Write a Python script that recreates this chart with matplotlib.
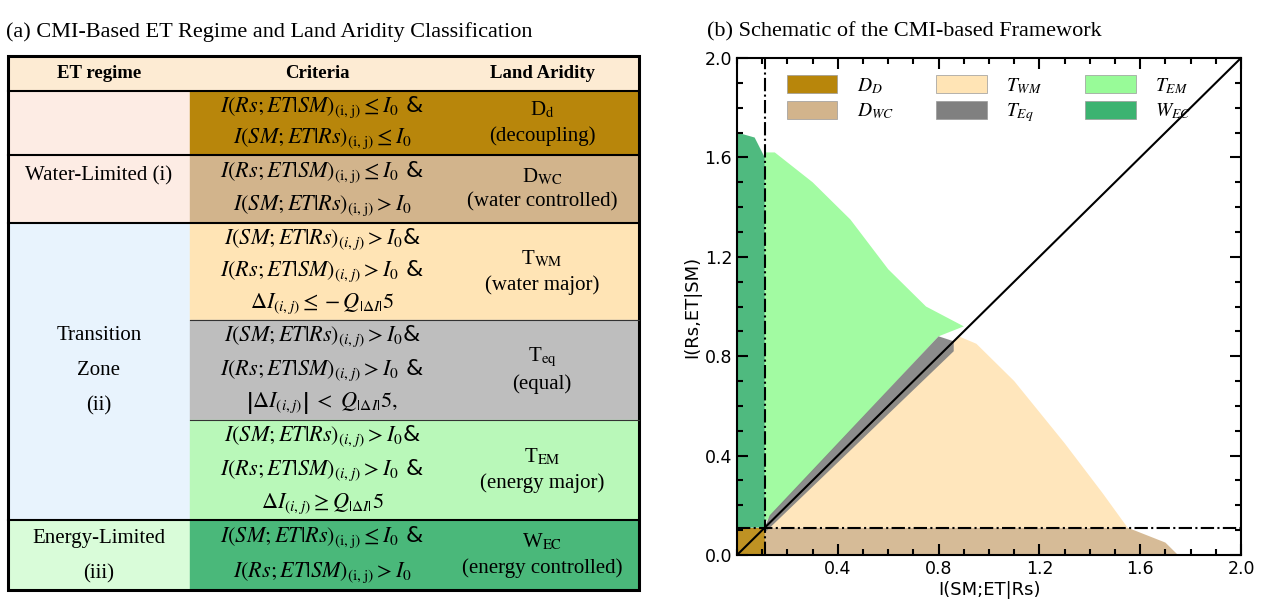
import matplotlib.pyplot as plt
from matplotlib.patches import Rectangle, Polygon

plt.rcParams['mathtext.fontset'] = 'stix'
SERIF = 'Liberation Serif'

# ---- table data (a) ----
header = ["ET regime", "Criteria", "Land Aridity"]
regimes = ["Water-Limited (i)", "Transition\n\nZone\n\n(ii)", "Energy-Limited\n\n(iii)"]
regime_colors = ["#fdece4", "#e8f3fd", "#d9fcd9"]
regime_text_y = [176, 371, 556]
classes = ["D$_\\mathrm{d}$\n(decoupling)", "D$_\\mathrm{WC}$\n(water controlled)",
           "T$_\\mathrm{WM}$\n(water major)", "T$_\\mathrm{eq}$\n(equal)",
           "T$_\\mathrm{EM}$\n(energy major)", "W$_\\mathrm{EC}$\n(energy controlled)"]
class_colors = ["#b8860b", "#d2b48c", "#ffe4b5", "#bebebe", "#b9f8b9", "#4ab87a"]
criteria = [
    ["$I(Rs;ET|SM)_{\\mathrm{(i,j)}}\\leq I_0$ &", "$I(SM;ET|Rs)_{\\mathrm{(i,j)}}\\leq I_0$"],
    ["$I(Rs;ET|SM)_{\\mathrm{(i,j)}}\\leq I_0$ &", "$I(SM;ET|Rs)_{\\mathrm{(i,j)}}>I_0$"],
    ["$I(SM;ET|Rs)_{(i,j)}>I_0$&", "$I(Rs;ET|SM)_{(i,j)}>I_0$ &", "$\\Delta I_{(i,j)}\\leq -Q_{|\\Delta I|}5$"],
    ["$I(SM;ET|Rs)_{(i,j)}>I_0$&", "$I(Rs;ET|SM)_{(i,j)}>I_0$ &", "$\\left|\\Delta I_{(i,j)}\\right|\\ <\\ Q_{|\\Delta I|}5,$"],
    ["$I(SM;ET|Rs)_{(i,j)}>I_0$&", "$I(Rs;ET|SM)_{(i,j)}>I_0$ &", "$\\Delta I_{(i,j)}\\geq Q_{|\\Delta I|}5$"],
    ["$I(SM;ET|Rs)_{\\mathrm{(i,j)}}\\leq I_0$ &", "$I(Rs;ET|SM)_{\\mathrm{(i,j)}}>I_0$"],
]
row_edges = [56, 91, 155, 223, 320, 420, 520, 590]   # pixel rows of the table
col_edges = [8, 190, 445, 639]
regime_rows = [(1, 3), (3, 6), (6, 7)]

# ---- scatter-region data (b) ----
I0 = 0.11
labels = ["$D_D$", "$D_{WC}$", "$T_{WM}$", "$T_{Eq}$", "$T_{EM}$", "$W_{EC}$"]
colors = ["#b8860b", "#d2b48c", "#ffe4b5", "#808080", "#98fb98", "#3cb371"]
reg_dd = [(0, 0), (I0, 0), (I0, I0), (0, I0)]
reg_dwc = [(I0, 0), (1.75, 0), (1.7, 0.05), (1.55, I0), (I0, I0)]
reg_twm = [(I0, I0), (1.55, I0), (1.45, 0.25), (1.3, 0.45), (1.1, 0.7), (0.95, 0.85), (0.88, 0.88)]
reg_teq = [(I0, I0), (0.86, 0.86), (0.86, 0.82), (I0, 0.09)]
reg_teq2 = [(I0, I0), (0.13, 0.16), (0.8, 0.88), (0.86, 0.86)]
reg_tem = [(I0, 0.13), (0.8, 0.88), (0.9, 0.92), (0.75, 1.0), (0.6, 1.15), (0.45, 1.35),
           (0.3, 1.5), (0.15, 1.62), (I0, 1.62)]
reg_wec = [(0, I0), (I0, I0), (I0, 1.6), (0.07, 1.68), (0, 1.7)]
regions = [reg_dd, reg_dwc, reg_twm, reg_teq, reg_tem, reg_wec]

fig = plt.figure(figsize=(12.68, 6.14), dpi=100)

# ---------- panel (a) ----------
ta = fig.add_axes([0, 0, 1, 1])
ta.set_xlim(0, 1268)
ta.set_ylim(614, 0)
ta.axis('off')
ta.text(6, 32, "(a) CMI-Based ET Regime and Land Aridity Classification",
        family=SERIF, fontsize=16, va='center')
ta.text(707, 32, "(b) Schematic of the CMI-based Framework",
        family=SERIF, fontsize=16, va='center')
ta.add_patch(Rectangle((col_edges[0], row_edges[0]), col_edges[3] - col_edges[0],
                       row_edges[1] - row_edges[0], color="#fdebd3"))
for i, h in enumerate(header):
    ta.text((col_edges[i] + col_edges[i + 1]) / 2, 74, h, family=SERIF, fontsize=13.5,
            weight='bold', ha='center', va='center')
for (a, b), name, c, ty in zip(regime_rows, regimes, regime_colors, regime_text_y):
    y0, y1 = row_edges[a], row_edges[b]
    ta.add_patch(Rectangle((col_edges[0], y0), col_edges[1] - col_edges[0], y1 - y0, color=c))
    ta.text((col_edges[0] + col_edges[1]) / 2, ty, name, family=SERIF,
            fontsize=15, ha='center', va='center', linespacing=0.9)
for k in range(6):
    y0, y1 = row_edges[k + 1], row_edges[k + 2]
    ta.add_patch(Rectangle((col_edges[1], y0), col_edges[3] - col_edges[1], y1 - y0,
                           color=class_colors[k]))
    n = len(criteria[k])
    step = (y1 - y0) / n
    for j, line in enumerate(criteria[k]):
        ta.text((col_edges[1] + col_edges[2]) / 2 + 5, y0 + step * (j + 0.5), line,
                fontsize=16, ha='center', va='center')
    ta.text((col_edges[2] + col_edges[3]) / 2, (y0 + y1) / 2, classes[k], family=SERIF,
            fontsize=15, ha='center', va='center', linespacing=1.4)
for y in [91, 155, 223, 520]:
    ta.plot([col_edges[0], col_edges[3]], [y, y], color='k', lw=1.5)
for y in [320, 420]:
    ta.plot([col_edges[1], col_edges[3]], [y, y], color='#333333', lw=0.8)
ta.add_patch(Rectangle((col_edges[0], row_edges[0]), col_edges[3] - col_edges[0],
                       row_edges[-1] - row_edges[0], fill=False, lw=2.2, ec='k'))

# ---------- panel (b) ----------
ax = fig.add_axes([737 / 1268, 1 - 555 / 614, 504 / 1268, 497 / 614])
for reg, c in zip(regions, colors):
    ax.add_patch(Polygon(reg, closed=True, fc=c, ec='none', alpha=0.9))
ax.add_patch(Polygon(reg_teq2, closed=True, fc=colors[3], ec='none', alpha=0.9))
ax.plot([0, 2], [0, 2], color='k', lw=1.5)
ax.axvline(I0, color='k', lw=1.5, ls='-.')
ax.axhline(I0, color='k', lw=1.5, ls='-.')
ax.set_xlim(0, 2)
ax.set_ylim(0, 2)
ax.set_xticks([0.4, 0.8, 1.2, 1.6, 2.0])
ax.set_yticks([0.0, 0.4, 0.8, 1.2, 1.6, 2.0])
ax.set_xticks([i * 0.1 for i in range(21)], minor=True)
ax.set_yticks([i * 0.1 for i in range(21)], minor=True)
ax.tick_params(which='both', direction='in', top=True, right=True, width=1.5, labelsize=12.5)
ax.tick_params(which='major', length=8)
ax.tick_params(which='minor', length=4)
for s in ax.spines.values():
    s.set_linewidth(1.5)
ax.set_xlabel("I(SM;ET|Rs)", fontsize=13, labelpad=2)
ax.set_ylabel("I(Rs,ET|SM)", fontsize=13, labelpad=2)
handles = [Rectangle((0, 0), 1, 1, fc=c, ec='#999999', lw=0.5) for c in colors]
ax.legend(handles, labels, ncol=3, loc='upper center', bbox_to_anchor=(0.5, 1.0),
          frameon=False, fontsize=14, handlelength=2.6, handleheight=1.0,
          columnspacing=2.2, labelspacing=0.3, handletextpad=1.0)

fig.savefig("out.png", dpi=100)
